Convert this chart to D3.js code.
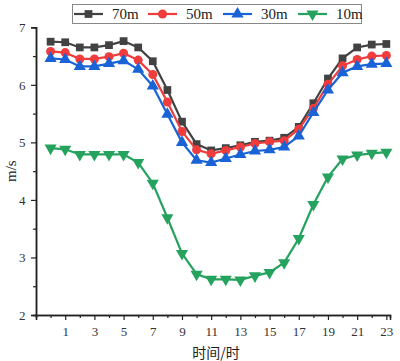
<!DOCTYPE html>
<html><head><meta charset="utf-8">
<script src="https://cdn.jsdelivr.net/npm/d3@7/dist/d3.min.js"></script>
<style>body{margin:0;background:#fff}svg{display:block}</style>
</head><body>
<svg id="c" width="400" height="361"></svg>
<script>
const hours = d3.range(0, 24);
const s70 = [6.75,6.74,6.65,6.65,6.69,6.76,6.65,6.41,5.91,5.36,4.97,4.86,4.90,4.95,5.01,5.03,5.08,5.27,5.68,6.11,6.46,6.65,6.70,6.71];
const s50 = [6.58,6.56,6.45,6.45,6.49,6.55,6.43,6.18,5.70,5.19,4.87,4.80,4.86,4.92,4.98,5.01,5.03,5.23,5.59,6.01,6.33,6.44,6.50,6.51];
const s30 = [6.46,6.44,6.32,6.32,6.37,6.42,6.27,5.98,5.49,5.00,4.69,4.65,4.72,4.79,4.85,4.87,4.92,5.11,5.52,5.91,6.21,6.32,6.36,6.37];
const s10 = [4.90,4.88,4.79,4.79,4.79,4.79,4.65,4.29,3.69,3.07,2.71,2.62,2.62,2.61,2.68,2.74,2.91,3.33,3.92,4.40,4.71,4.78,4.81,4.83];
const seriesNames = ["70m","50m","30m","10m"];
const xTickLabels = [1,3,5,7,9,11,13,15,17,19,21,23];
const yTickLabels = [2,3,4,5,6,7];

const series = [
  {name: seriesNames[0], values: s70, color: "#424242", marker: "square"},
  {name: seriesNames[1], values: s50, color: "#f03c3c", marker: "circle"},
  {name: seriesNames[2], values: s30, color: "#1a63d6", marker: "up"},
  {name: seriesNames[3], values: s10, color: "#25a35e", marker: "down"}
];

const svg = d3.select("#c");
const x = d3.scaleLinear().domain([-1, 23.25]).range([36, 390]);
const y = d3.scaleLinear().domain([2, 7]).range([315, 27.3]);
const serif = "'Liberation Serif','DejaVu Serif',serif";

// axes
const xMajor = d3.range(-1, 24, 2);
const xMinor = d3.range(0, 24, 2);
const gx = svg.append("g").attr("transform", `translate(0,${y(2)})`);
gx.call(d3.axisBottom(x).tickValues(xMajor).tickSize(5).tickFormat(d => xTickLabels.includes(d) ? d : ""));
gx.append("g").call(d3.axisBottom(x).tickValues(xMinor).tickSize(3).tickFormat(""));
const gy = svg.append("g").attr("transform", `translate(${x(-1)},0)`);
gy.call(d3.axisLeft(y).tickValues(yTickLabels).tickSize(5).tickFormat(d3.format("d")));
gy.append("g").call(d3.axisLeft(y).tickValues(d3.range(2.5, 7, 1)).tickSize(3).tickFormat(""));
svg.selectAll(".domain").attr("stroke", "#222").attr("stroke-width", 1.5);
svg.selectAll(".tick line").attr("stroke", "#222").attr("stroke-width", 1.2);
svg.selectAll(".tick text").attr("font-family", serif).attr("font-size", 13).attr("fill", "#333");
gx.selectAll(".tick text").attr("dy", "1.0em");
gy.selectAll(".tick text").attr("dx", "-0.2em");

// markers
const sym = {
  square: d3.symbol().type(d3.symbolSquare).size(60),
  circle: d3.symbol().type(d3.symbolCircle).size(64),
  up: d3.symbol().type(d3.symbolTriangle).size(64),
  down: d3.symbol().type(d3.symbolTriangle).size(64)
};
function marker(g, m, color, px, py) {
  g.append("path").attr("d", sym[m]()).attr("fill", color)
    .attr("transform", `translate(${px},${py})` + (m === "down" ? " rotate(180)" : ""));
}

const line = d3.line().x((d, i) => x(hours[i])).y(d => y(d));
series.forEach(s => {
  const g = svg.append("g");
  g.append("path").datum(s.values).attr("d", line).attr("fill", "none")
    .attr("stroke", s.color).attr("stroke-width", 2.2);
  s.values.forEach((v, i) => marker(g, s.marker, s.color, x(hours[i]), y(v)));
});

// legend
const lg = svg.append("g");
lg.append("rect").attr("x", 72.5).attr("y", 4.5).attr("width", 289).attr("height", 19)
  .attr("fill", "#fff").attr("stroke", "#888").attr("stroke-width", 1);
const lx = [74, 148, 223, 298];
series.forEach((s, i) => {
  lg.append("line").attr("x1", lx[i]).attr("x2", lx[i] + 29).attr("y1", 14).attr("y2", 14)
    .attr("stroke", s.color).attr("stroke-width", 2.2);
  marker(lg, s.marker, s.color, lx[i] + 14.5, 14);
  lg.append("text").attr("x", lx[i] + 38).attr("y", 19).attr("font-family", serif)
    .attr("font-size", 15).attr("fill", "#222").text(s.name);
});

// axis titles
svg.append("text").attr("transform", `translate(16,${y(4.5)}) rotate(-90)`).attr("text-anchor", "middle")
  .attr("font-family", serif).attr("font-size", 15).attr("fill", "#222").text("m/s");
svg.append("text").attr("x", 216).attr("y", 358).attr("text-anchor", "middle")
  .attr("font-family", "'Noto Sans CJK SC',sans-serif").attr("font-size", 14).attr("fill", "#222").text("时间/时");
</script>
</body></html>
